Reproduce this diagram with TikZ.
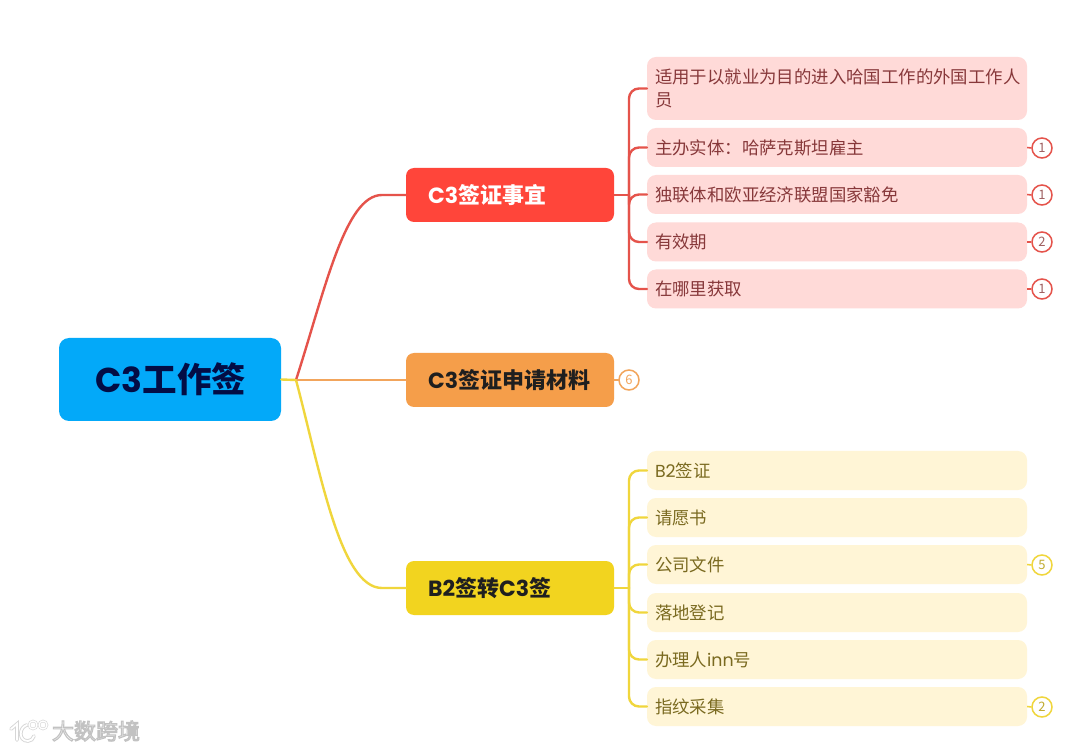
\documentclass[tikz,border=0pt]{standalone}
\usepackage{fontspec}
\setmainfont{Noto Sans CJK SC}
\newfontfamily\latinf{Poppins}
\usetikzlibrary{calc}
\definecolor{rootblue}{HTML}{03A9F9}
\definecolor{rootink}{HTML}{030D45}
\definecolor{redmain}{HTML}{FF453A}
\definecolor{redline}{HTML}{E5534B}
\definecolor{redleaf}{HTML}{FFDAD8}
\definecolor{redink}{HTML}{87383A}
\definecolor{orgmain}{HTML}{F59E4A}
\definecolor{orgline}{HTML}{F2A55C}
\definecolor{yelmain}{HTML}{F2D41F}
\definecolor{yelline}{HTML}{F0D63C}
\definecolor{yelleaf}{HTML}{FFF5D6}
\definecolor{yelink}{HTML}{7A6A20}
\newcommand{\lt}[1]{{\latinf #1}}
\newcommand{\mainlabel}[1]{\raisebox{-1pt}{\makebox[164pt][l]{#1}}}
\tikzset{
  x=1pt,y=-1pt,
  rootbox/.style={fill=rootblue,text=rootink,rounded corners=10pt,minimum width=222pt,minimum height=83pt,inner sep=0pt,font=\fontsize{34.5}{38}\selectfont\bfseries},
  mainbox/.style={rounded corners=8pt,minimum width=208pt,minimum height=54pt,inner sep=0pt,font=\fontsize{22}{25}\selectfont\bfseries},
  leafbase/.style={rounded corners=9pt,minimum width=380pt,text width=364pt,align=left,inner xsep=8pt,inner ysep=0pt,font=\fontsize{17.4}{23}\selectfont},
  redleafbox/.style={leafbase,fill=redleaf,text=redink},
  yelleafbox/.style={leafbase,fill=yelleaf,text=yelink},
  badge/.style={circle,fill=white,line width=1.5pt,minimum size=20pt,inner sep=0pt,font=\fontsize{13}{13}\selectfont},
  conn/.style={line width=2.4pt,line cap=round},
  thinconn/.style={line width=1.6pt}
}
\begin{document}
\begin{tikzpicture}
\useasboundingbox[fill=white] (0,0) rectangle (1080,751);
% nodes
\node[rootbox] (root) at (170,379.5) {\raisebox{-1pt}{\hspace{2pt}\lt{C3}工作签}};
\node[mainbox,fill=redmain,text=white] (c1) at (510,195) {\mainlabel{\lt{C3}签证事宜}};
\node[mainbox,fill=orgmain,text=black!88] (c2) at (510,380) {\mainlabel{\lt{C3}签证申请材料}};
\node[mainbox,fill=yelmain,text=black!88] (c3) at (510,588) {\mainlabel{\lt{B2}签转\lt{C3}签}};
\coordinate (hub) at (296,380);
\coordinate (t1) at (629,195);
\coordinate (t3) at (629,588);
% red leaves
\node[redleafbox,minimum height=63pt] (r1) at (837,88.5) {适用于以就业为目的进入哈国工作的外国工作人\\员};
\node[redleafbox,minimum height=39pt] (r2) at (837,147.5) {主办实体：哈萨克斯坦雇主};
\node[redleafbox,minimum height=39pt] (r3) at (837,194.5) {独联体和欧亚经济联盟国家豁免};
\node[redleafbox,minimum height=39pt] (r4) at (837,242) {有效期};
\node[redleafbox,minimum height=39pt] (r5) at (837,289) {在哪里获取};
% yellow leaves
\node[yelleafbox,minimum height=39pt] (y1) at (837,470.5) {\lt{B2}签证};
\node[yelleafbox,minimum height=39pt] (y2) at (837,517.5) {请愿书};
\node[yelleafbox,minimum height=39pt] (y3) at (837,564.5) {公司文件};
\node[yelleafbox,minimum height=39pt] (y4) at (837,612.5) {落地登记};
\node[yelleafbox,minimum height=39pt] (y5) at (837,659.5) {办理人\lt{inn}号};
\node[yelleafbox,minimum height=39pt] (y6) at (837,706.5) {指纹采集};
% badges
\node[badge,draw=redline,text=redink!80] (b1) at (1042,148) {1};
\node[badge,draw=redline,text=redink!80] (b2) at (1042,195) {1};
\node[badge,draw=redline,text=redink!80] (b3) at (1042,242) {2};
\node[badge,draw=redline,text=redink!80] (b4) at (1042,289) {1};
\node[badge,draw=orgline,text=orgline] (b5) at (629,380) {6};
\node[badge,draw=yelline,text=yelline!80!black] (b6) at (1042,565) {5};
\node[badge,draw=yelline,text=yelline!80!black] (b7) at (1042,707) {2};
% connectors root -> main
\draw[conn,draw=redline] (hub) .. controls (325,290) and (345,195) .. (382,195) -- (c1.west);
\draw[conn,draw=yelline] (hub) .. controls (320,470) and (340,588) .. (382,588) -- (c3.west);
\draw[conn,draw=orgline] (hub) -- (c2.west);
\draw[conn,draw=yelline] (root.east) -- (hub);
\draw[conn,draw=orgline] (c2.east) -- (b5.west);
% red trunk
\draw[conn,draw=redline] (c1.east) -- (t1);
\foreach \n in {r1,r2,r3,r4,r5}{
  \draw[conn,draw=redline,rounded corners=10pt] (t1) |- (\n.west);
}
\foreach \a/\b in {r2/b1,r3/b2,r4/b3,r5/b4}{
  \draw[thinconn,draw=redline] (\a.east) -- (\b.west);
}
% yellow trunk
\draw[conn,draw=yelline] (c3.east) -- (t3);
\foreach \n in {y1,y2,y3,y4,y5,y6}{
  \draw[conn,draw=yelline,rounded corners=10pt] (t3) |- (\n.west);
}
\foreach \a/\b in {y3/b6,y6/b7}{
  \draw[thinconn,draw=yelline] (\a.east) -- (\b.west);
}
% watermark
\node[font=\fontsize{22}{22}\selectfont] (wm) at (96,731) {\special{pdf:code q 2 Tr 1.1 w 0.76 G 0.98 g}大数跨境\special{pdf:code 0 Tr Q}};
\foreach \w/\c in {3.6/gray!32,1.8/white}{
  \draw[\c,line width=\w pt,line cap=round] (11,729) -- (17,724) -- (17,740);
  \draw[\c,line width=\w pt,line cap=round] (27,725) .. controls (19,727) and (18,741) .. (28,741) .. controls (31,741) and (33,739) .. (34,736);
  \draw[\c,line width=\w pt*0.7] (33,725) circle (4) (43,725) circle (4);
}
\end{tikzpicture}
\end{document}
